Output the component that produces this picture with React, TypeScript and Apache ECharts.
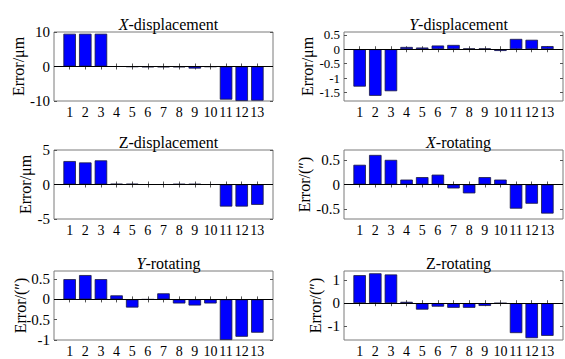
import React, { useEffect, useRef } from "react";
import * as echarts from "echarts";

// ---- data ----
const categories = [1, 2, 3, 4, 5, 6, 7, 8, 9, 10, 11, 12, 13];

const xDisplacement = [9.5, 9.5, 9.5, 0, -0.1, -0.2, -0.2, -0.2, -0.6, -0.1, -9.6, -10, -9.9];
const yDisplacement = [-1.3, -1.62, -1.46, 0.08, 0.06, 0.13, 0.15, 0.03, 0.03, -0.06, 0.36, 0.33, 0.11];
const zDisplacement = [3.4, 3.2, 3.5, 0.1, 0.1, 0, 0, 0.08, 0.08, 0, -3.2, -3.2, -2.95];
const xRotating = [0.4, 0.6, 0.5, 0.1, 0.15, 0.2, -0.08, -0.18, 0.15, 0.1, -0.49, -0.39, -0.59];
const yRotating = [0.5, 0.6, 0.5, 0.1, -0.2, 0, 0.15, -0.1, -0.15, -0.1, -1.0, -0.92, -0.82];
const zRotating = [1.22, 1.3, 1.25, 0.06, -0.28, -0.15, -0.2, -0.2, -0.12, 0, -1.3, -1.52, -1.42];

const yTicksXDisp = [-10, 0, 10];
const yTicksYDisp = [-1.5, -1, -0.5, 0, 0.5];
const yTicksZDisp = [-5, 0, 5];
const yTicksXRot = [-0.5, 0, 0.5];
const yTicksYRot = [-1, -0.5, 0, 0.5];
const yTicksZRot = [-1, 0, 1];

const titles = ["{i|X}-displacement", "{i|Y}-displacement", "Z-displacement", "{i|X}-rotating", "{i|Y}-rotating", "Z-rotating"];
const yNames = ["Error/μm", "Error/μm", "Error/μm", "Error/(″)", "Error/(″)", "Error/(″)"];

const panels = [
  { data: xDisplacement, ticks: yTicksXDisp, min: -10, max: 10, col: 0, row: 0, nameGap: 24, labelSize: 15 },
  { data: yDisplacement, ticks: yTicksYDisp, min: -1.8, max: 0.6, col: 1, row: 0, nameGap: 27, labelSize: 13 },
  { data: zDisplacement, ticks: yTicksZDisp, min: -5, max: 5, col: 0, row: 1, nameGap: 19, labelSize: 15 },
  { data: xRotating, ticks: yTicksXRot, min: -0.7, max: 0.7, col: 1, row: 1, nameGap: 26, labelSize: 15 },
  { data: yRotating, ticks: yTicksYRot, min: -1, max: 0.7, col: 0, row: 2, nameGap: 26, labelSize: 15 },
  { data: zRotating, ticks: yTicksZRot, min: -1.6, max: 1.4, col: 1, row: 2, nameGap: 18, labelSize: 15 },
];

const FONT = "Liberation Serif";
const cols = [{ left: 54, width: 219 }, { left: 344, width: 219 }];
const rows = [{ top: 32, height: 69 }, { top: 150, height: 69 }, { top: 271, height: 69 }];

function buildOption() {
  const grid: any[] = [];
  const xAxis: any[] = [];
  const yAxis: any[] = [];
  const series: any[] = [];
  const title: any[] = [];

  panels.forEach((p, i) => {
    const c = cols[p.col];
    const r = rows[p.row];
    grid.push({
      left: c.left, top: r.top, width: c.width, height: r.height,
      show: true, borderColor: "#7a7a7a", borderWidth: 1, backgroundColor: "#fff",
      containLabel: false,
    });
    const tickStyle = { show: true, inside: true, length: 3, lineStyle: { color: "#555", width: 1 } };
    const labelStyle = { fontFamily: FONT, color: "#000", hideOverlap: false, showMinLabel: true, showMaxLabel: true };
    xAxis.push({
      type: "value", gridIndex: i, min: 0, max: 14, position: "bottom",
      axisLine: { show: false }, splitLine: { show: false },
      axisTick: { ...tickStyle, customValues: categories },
      axisLabel: { ...labelStyle, customValues: categories, fontSize: 14, margin: 4 },
    });
    xAxis.push({
      type: "value", gridIndex: i, min: 0, max: 14, position: "top",
      axisLine: { show: false }, splitLine: { show: false },
      axisTick: { ...tickStyle, customValues: categories },
      axisLabel: { show: false },
    });
    const evenTicks = p.ticks.filter((_, k) => k % 2 === 0);
    const oddTicks = p.ticks.filter((_, k) => k % 2 === 1);
    yAxis.push({
      type: "value", gridIndex: i, min: p.min, max: p.max, position: "left",
      axisLine: { show: false }, splitLine: { show: false },
      axisTick: { ...tickStyle, customValues: p.ticks },
      axisLabel: { ...labelStyle, customValues: evenTicks, fontSize: p.labelSize, lineHeight: 12, margin: 4 },
      name: yNames[i], nameLocation: "middle", nameRotate: 90, nameGap: p.nameGap,
      nameTextStyle: { fontFamily: FONT, fontSize: 16, color: "#000" },
    });
    yAxis.push({
      type: "value", gridIndex: i, min: p.min, max: p.max, position: "left", offset: 0,
      axisLine: { show: false }, splitLine: { show: false }, axisTick: { show: false },
      axisLabel: { ...labelStyle, customValues: oddTicks, fontSize: p.labelSize, lineHeight: 12, margin: 4 },
    });
    yAxis.push({
      type: "value", gridIndex: i, min: p.min, max: p.max, position: "right",
      axisLine: { show: false }, splitLine: { show: false },
      axisTick: { ...tickStyle, customValues: p.ticks },
      axisLabel: { show: false },
    });
    const unit = c.width / 14;
    series.push({
      type: "bar", xAxisIndex: i * 2, yAxisIndex: i * 3,
      data: p.data.map((v, k) => [categories[k], v]),
      barWidth: unit * 0.8,
      itemStyle: { color: "#0000ff", borderColor: "#1a1a40", borderWidth: 0.8 },
      markLine: {
        silent: true, symbol: "none", data: [{ yAxis: 0 }],
        lineStyle: { color: "#000", width: 1, type: "solid" }, label: { show: false },
      },
    });
    title.push({
      text: titles[i], left: c.left + c.width / 2, top: r.top - 21, textAlign: "center",
      textStyle: {
        fontFamily: FONT, fontSize: 16, fontWeight: "normal", color: "#000",
        rich: { i: { fontFamily: FONT, fontSize: 16, fontStyle: "italic", color: "#000" } },
      },
    });
  });

  return { animation: false, backgroundColor: "#fff", grid, xAxis, yAxis, series, title };
}

export default function App() {
  const ref = useRef<HTMLDivElement>(null);
  useEffect(() => {
    if (!ref.current) return;
    const chart = echarts.init(ref.current, undefined, { renderer: "svg" });
    chart.setOption(buildOption() as any);
    return () => chart.dispose();
  }, []);
  return (
    <div
      ref={ref}
      style={{ position: "absolute", left: 0, top: 0, width: 565, height: 359, background: "#fff" }}
    />
  );
}
